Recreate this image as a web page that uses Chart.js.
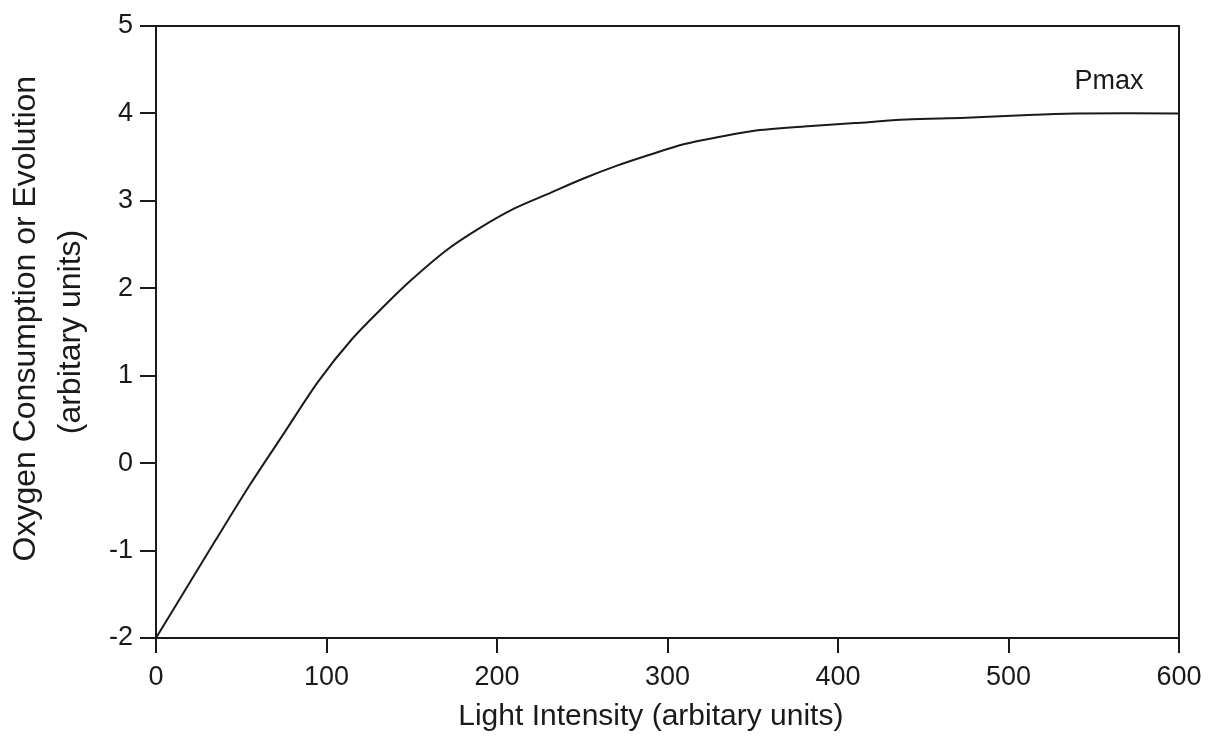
<!DOCTYPE html>
<html>
<head>
<meta charset="utf-8">
<script src="https://cdn.jsdelivr.net/npm/chart.js@4"></script>
<style>
    body { margin: 0; background: #fff; }
    #wrap { width: 1216px; height: 745px; }
</style>
</head>
<body>
<div id="wrap"><canvas id="lightChart"></canvas></div>
<script>
const lightIntensity = [0, 15, 35, 55, 75, 95, 115, 135, 150, 170, 190, 210, 230, 250, 270, 290, 310, 330, 350, 380, 410, 440, 475, 515, 540, 600];
const oxygenRate = [-2, -1.52, -0.88, -0.25, 0.34, 0.93, 1.42, 1.82, 2.1, 2.43, 2.69, 2.91, 3.08, 3.25, 3.40, 3.53, 3.65, 3.73, 3.80, 3.85, 3.89, 3.93, 3.95, 3.985, 4.0, 4.0];
const xTicks = [0, 100, 200, 300, 400, 500, 600];
const yTicks = [-2, -1, 0, 1, 2, 3, 4, 5];
const pmaxLabel = { text: 'Pmax', x: 559, y: 4.36 };

const ink = '#1a1a1a';
const fontFamily = '"Liberation Sans", Arial, sans-serif';

// box round the plot and the Pmax note
const framePlugin = {
    id: 'frame',
    afterDraw(chart) {
        const { ctx, chartArea, scales } = chart;
        ctx.save();
        ctx.strokeStyle = ink;
        ctx.lineWidth = 2;
        ctx.beginPath();
        ctx.moveTo(chartArea.left, chartArea.top);
        ctx.lineTo(chartArea.right, chartArea.top);
        ctx.lineTo(chartArea.right, chartArea.bottom);
        ctx.stroke();
        ctx.fillStyle = ink;
        ctx.font = '27px ' + fontFamily;
        ctx.textAlign = 'center';
        ctx.textBaseline = 'middle';
        ctx.fillText(pmaxLabel.text, scales.x.getPixelForValue(pmaxLabel.x), scales.y.getPixelForValue(pmaxLabel.y));
        ctx.restore();
    }
};

const ctx = document.getElementById('lightChart').getContext('2d');
const chart = new Chart(ctx, {
    type: 'line',
    data: {
        datasets: [{
            data: lightIntensity.map((x, i) => ({ x: x, y: oxygenRate[i] })),
            borderColor: ink,
            borderWidth: 2,
            pointRadius: 0,
            tension: 0.3,
            fill: false
        }]
    },
    options: {
        responsive: true,
        maintainAspectRatio: false,
        animation: false,
        layout: { padding: { top: 26, right: 37, bottom: 0, left: 0 } },
        plugins: {
            legend: { display: false },
            tooltip: { enabled: false }
        },
        scales: {
            x: {
                type: 'linear',
                min: 0,
                max: 600,
                afterFit: s => { s.height = 107; },
                afterBuildTicks: s => { s.ticks = xTicks.map(v => ({ value: v })); },
                grid: { drawOnChartArea: false, tickLength: 15, color: ink, lineWidth: 2 },
                border: { color: ink, width: 2 },
                ticks: { color: ink, padding: 8, font: { family: fontFamily, size: 27 } },
                title: {
                    display: true,
                    text: 'Light Intensity (arbitary units)    ',
                    color: ink,
                    padding: { top: 0, bottom: 10 },
                    font: { family: fontFamily, size: 30, lineHeight: 1.2 }
                }
            },
            y: {
                min: -2,
                max: 5,
                afterFit: s => { s.width = 156; },
                afterBuildTicks: s => { s.ticks = yTicks.map(v => ({ value: v })); },
                grid: { drawOnChartArea: false, tickLength: 16, color: ink, lineWidth: 2 },
                border: { color: ink, width: 2 },
                ticks: { color: ink, padding: 7, font: { family: fontFamily, size: 27 } },
                title: {
                    display: true,
                    text: ['   Oxygen Consumption or Evolution', '(arbitary units)'],
                    color: ink,
                    padding: { top: 4, bottom: 0 },
                    font: { family: fontFamily, size: 32, lineHeight: 1.4 }
                }
            }
        }
    },
    plugins: [framePlugin]
});
</script>
</body>
</html>
